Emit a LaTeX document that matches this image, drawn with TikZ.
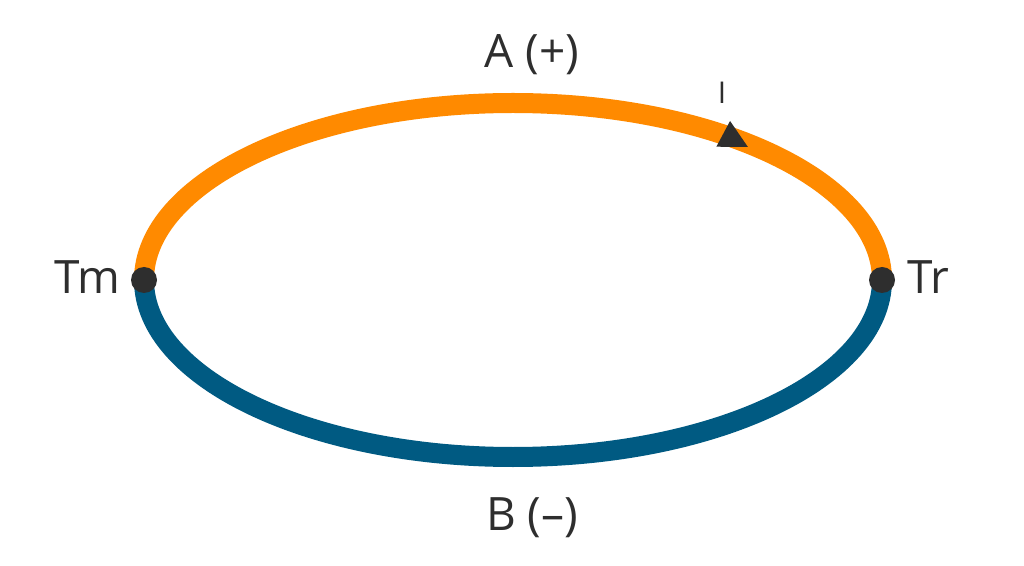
\documentclass[tikz,border=0pt]{standalone}
\usepackage{fontspec}
\setmainfont{Open Sans}
\usetikzlibrary{shapes.geometric}
\definecolor{legA}{HTML}{FF8A00}
\definecolor{legB}{HTML}{005A82}
\definecolor{dot}{HTML}{2E2E2E}
\tikzset{
 leg/.style={line width=20pt},
 junction/.style={draw=none,circle,fill=dot,minimum size=26pt,inner sep=0pt},
 lbl/.style={text=dot,font=\fontsize{46}{50}\selectfont}
}
\begin{document}
\begin{tikzpicture}[x=1pt,y=1pt]
 \useasboundingbox (0,0) rectangle (1024,565);
 \coordinate (Tm) at (144,285);
 \coordinate (Tr) at (882,285);

 \draw [leg,legA] (Tm) arc[start angle=180,end angle=0,x radius=369,y radius=177];
 \draw [leg,legB] (Tm) arc[start angle=180,end angle=360,x radius=369,y radius=177];

 \node[junction](m) at (Tm){};
 \node[junction](r) at (Tr){};
 \node[isosceles triangle,fill=dot,inner sep=0pt,minimum height=28pt,minimum width=24pt,
  isosceles triangle apex angle=55,rotate=-28](arr) at (731,427){};

 \node[lbl,anchor=east](tm) at (124,288){Tm};
 \node[lbl,anchor=west](tr) at (904,288){Tr};
 \node[lbl](a) at (532,510){A (+)};
 \node[lbl](b) at (532,47){B (–)};
 \node[text=dot,font=\fontsize{30}{32}\selectfont](i) at (722,472){I};
\end{tikzpicture}
\end{document}
